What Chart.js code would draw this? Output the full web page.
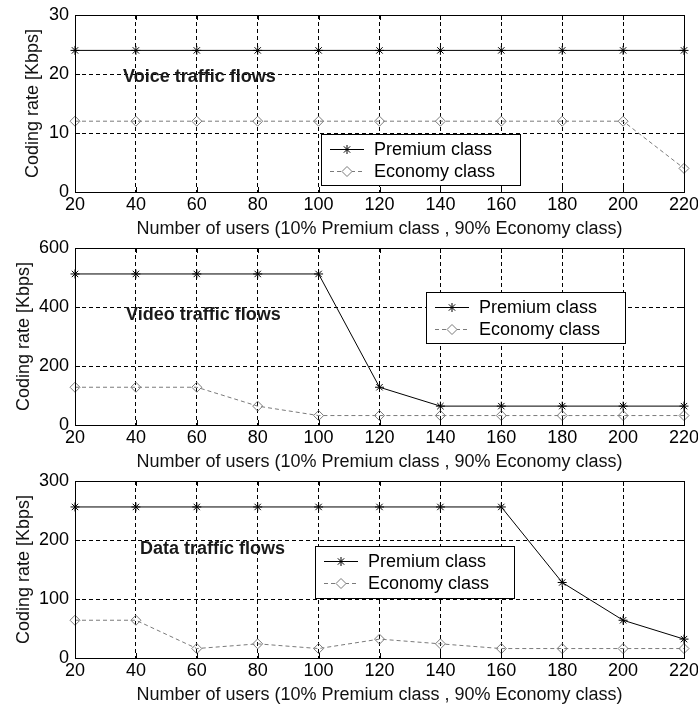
<!DOCTYPE html>
<html>
<head>
<meta charset="utf-8">
<script src="https://cdn.jsdelivr.net/npm/chart.js@4.4.1/dist/chart.umd.min.js"></script>
<style>
  html, body { margin: 0; background: #fff; }
  #wrap { position: relative; width: 698px; height: 710px; overflow: hidden; }
  #wrap canvas { position: absolute; left: 0; }
</style>
</head>
<body>
<div id="wrap">
  <canvas id="voice" width="698" height="240" style="top:0"></canvas>
  <canvas id="video" width="698" height="240" style="top:233px"></canvas>
  <canvas id="data" width="698" height="240" style="top:466px"></canvas>
</div>
<script>
"use strict";

// x 軸：使用者數
const users = [20, 40, 60, 80, 100, 120, 140, 160, 180, 200, 220];

// 各流量類型（Kbps）
const voicePremium = [24, 24, 24, 24, 24, 24, 24, 24, 24, 24, 24];
const voiceEconomy = [12, 12, 12, 12, 12, 12, 12, 12, 12, 12, 4];
const videoPremium = [512, 512, 512, 512, 512, 128, 64, 64, 64, 64, 64];
const videoEconomy = [128, 128, 128, 64, 32, 32, 32, 32, 32, 32, 32];
const dataPremium = [256, 256, 256, 256, 256, 256, 256, 256, 128, 64, 32];
const dataEconomy = [64, 64, 16, 24, 16, 32, 24, 16, 16, 16, 16];

const seriesNames = ["Premium class", "Economy class"];
const xTitle = "Number of users (10% Premium class , 90% Economy class)";
const yTitle = "Coding rate [Kbps]";

const FONT = "'Liberation Sans', Arial, sans-serif";
const ECON = "#7a7a7a";

// 外框 + 內向刻度（MATLAB 風格）
const framePlugin = {
  id: "frame",
  afterDraw(chart) {
    const { ctx, chartArea: a, scales } = chart;
    ctx.save();
    ctx.strokeStyle = "#000";
    ctx.lineWidth = 1;
    ctx.setLineDash([]);
    ctx.beginPath();
    scales.x.ticks.forEach((t) => {
      const px = Math.round(scales.x.getPixelForValue(t.value)) + 0.5;
      ctx.moveTo(px, a.bottom); ctx.lineTo(px, a.bottom - 5);
      ctx.moveTo(px, a.top); ctx.lineTo(px, a.top + 5);
    });
    scales.y.ticks.forEach((t) => {
      const py = Math.round(scales.y.getPixelForValue(t.value)) + 0.5;
      ctx.moveTo(a.left, py); ctx.lineTo(a.left + 5, py);
      ctx.moveTo(a.right, py); ctx.lineTo(a.right - 5, py);
    });
    ctx.stroke();
    ctx.strokeRect(Math.round(a.left) + 0.5, Math.round(a.top) + 0.5,
                   Math.round(a.right - a.left), Math.round(a.bottom - a.top));
    ctx.restore();
  },
};

// 圖內標題 + 圖例框
const notePlugin = {
  id: "note",
  afterDraw(chart, args, opts) {
    const { ctx } = chart;
    ctx.save();
    ctx.fillStyle = "#1a1a1a";
    ctx.font = "bold 18px " + FONT;
    ctx.textBaseline = "middle";
    ctx.fillText(opts.title, opts.tx, opts.ty);

    const b = opts.box;
    ctx.fillStyle = "#fff";
    ctx.fillRect(b.x, b.y, b.w, b.h);
    ctx.strokeStyle = "#000";
    ctx.lineWidth = 1;
    ctx.strokeRect(b.x + 0.5, b.y + 0.5, b.w, b.h);

    chart.data.datasets.forEach((ds, i) => {
      const y = Math.round(b.y + 14.5 + i * 22) + 0.5;
      ctx.strokeStyle = ds.borderColor;
      ctx.setLineDash(ds.borderDash || []);
      ctx.beginPath();
      ctx.moveTo(b.x + 9, y);
      ctx.lineTo(b.x + 43, y);
      ctx.stroke();
      ctx.setLineDash([]);
      ctx.fillStyle = "#fff";
      ctx.strokeStyle = ds.pointBorderColor;
      Chart.helpers.drawPoint(ctx, { pointStyle: ds.pointStyle, radius: ds.pointRadius,
                                     borderWidth: 1, rotation: 0 }, b.x + 26, y);
      ctx.fillStyle = "#000";
      ctx.font = "18px " + FONT;
      ctx.textBaseline = "middle";
      ctx.fillText(seriesNames[i], b.x + 53, y + 1);
    });
    ctx.restore();
  },
};

function makePanel(id, premium, economy, yMax, yStep, yTitlePad, note) {
  return new Chart(document.getElementById(id), {
    type: "line",
    data: {
      datasets: [
        {
          data: users.map((u, i) => ({ x: u, y: premium[i] })),
          borderColor: "#000", borderWidth: 1,
          pointStyle: "star", pointRadius: 4.5, pointBorderColor: "#000",
          pointBorderWidth: 1, pointBackgroundColor: "#000",
          tension: 0, clip: false,
        },
        {
          data: users.map((u, i) => ({ x: u, y: economy[i] })),
          borderColor: ECON, borderWidth: 1, borderDash: [4, 3],
          pointStyle: "rectRot", pointRadius: 5, pointBorderColor: ECON,
          pointBorderWidth: 1, pointBackgroundColor: "rgba(255,255,255,0)",
          tension: 0, clip: false,
        },
      ],
    },
    options: {
      responsive: false,
      animation: false,
      events: [],
      layout: { padding: { left: 0, right: 14, top: 15, bottom: 0 } },
      plugins: { legend: { display: false }, tooltip: { enabled: false }, note },
      scales: {
        x: {
          type: "linear", min: 20, max: 220,
          ticks: { stepSize: 20, color: "#000", padding: 2,
                   font: { family: FONT, size: 18 }, maxRotation: 0, autoSkip: false },
          grid: { color: "#000", lineWidth: 1, drawTicks: false },
          border: { display: false, dash: [4, 3] },
          title: { display: true, text: xTitle, color: "#111",
                   font: { family: FONT, size: 18 }, padding: { top: 0, bottom: 0 } },
          afterFit: (s) => { s.height = 48; s.paddingLeft = 0; s.paddingRight = 0; },
        },
        y: {
          min: 0, max: yMax,
          ticks: { stepSize: yStep, color: "#000", padding: 6,
                   font: { family: FONT, size: 18 } },
          grid: { color: "#000", lineWidth: 1, drawTicks: false },
          border: { display: false, dash: [4, 3] },
          title: { display: true, text: yTitle, color: "#111",
                   font: { family: FONT, size: 18 }, padding: { top: yTitlePad, bottom: 0 } },
          afterFit: (s) => { s.width = 75; s.paddingTop = 0; s.paddingBottom = 0; },
        },
      },
    },
    plugins: [framePlugin, notePlugin],
  });
}

makePanel("voice", voicePremium, voiceEconomy, 30, 10, 22,
  { title: "Voice traffic flows", tx: 123, ty: 77, box: { x: 321, y: 134, w: 199, h: 51 } });
makePanel("video", videoPremium, videoEconomy, 600, 200, 13,
  { title: "Video traffic flows", tx: 126, ty: 82, box: { x: 426, y: 59, w: 199, h: 51 } });
makePanel("data", dataPremium, dataEconomy, 300, 100, 13,
  { title: "Data traffic flows", tx: 140, ty: 83, box: { x: 315, y: 80, w: 199, h: 52 } });
</script>
</body>
</html>
